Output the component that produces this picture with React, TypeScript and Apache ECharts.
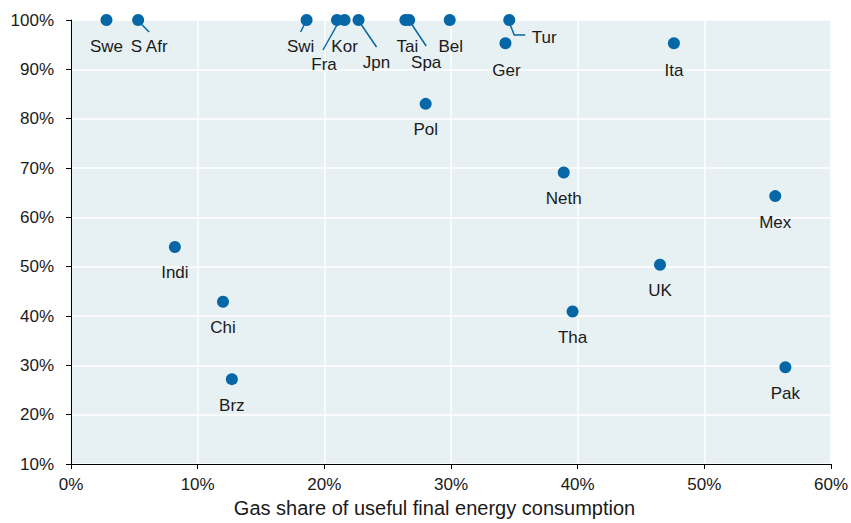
import React, { useEffect, useRef } from "react";
import * as echarts from "echarts";

const countries = ["Swe", "S Afr", "Swi", "Fra", "Kor", "Jpn", "Tai", "Spa", "Bel", "Tur", "Ger", "Ita", "Pol", "Neth", "Mex", "UK", "Tha", "Pak", "Indi", "Chi", "Brz"];
const gasShare = [2.8, 5.3, 18.6, 21.0, 21.6, 22.7, 26.4, 26.7, 29.9, 34.6, 34.3, 47.6, 28.0, 38.9, 55.6, 46.5, 39.6, 56.4, 8.2, 12.0, 12.7];
const yValues = [100, 100, 100, 100, 100, 100, 100, 100, 100, 100, 95.3, 95.3, 83.0, 69.1, 64.3, 50.4, 40.9, 29.6, 54.0, 42.9, 27.2];

const xTicks = { min: 0, max: 60, interval: 10 };
const yTicks = { min: 10, max: 100, interval: 10 };
const xTitle = "Gas share of useful final energy consumption";

// label placement (layout only): pixel offset of each label from its point
const labelOffsets: Record<string, [number, number]> = {
  "S Afr": [11, 26],
  Swi: [-6, 26],
  Fra: [-13, 44],
  Jpn: [18, 42],
  Tai: [2, 26],
  Spa: [17, 42],
  Bel: [1, 26],
  Tur: [35, 17],
  Ger: [1, 27],
  Ita: [0, 27],
};
// leader lines (layout only): pixel offsets relative to the point
const leaderShapes: Record<string, [number, number][]> = {
  "S Afr": [[3, 4], [11, 12]],
  Swi: [[-2, 4], [-6, 12]],
  Fra: [[0, 5], [-14, 30]],
  Jpn: [[3, 5], [18, 27]],
  Spa: [[3, 5], [17, 26]],
  Tur: [[1, 5], [5, 15], [16, 15]],
};

const BLUE = "#0567a6";
const FONT = "'Liberation Sans', Arial, sans-serif";
const TEXT = "#1a1a1a";

export default function App() {
  const ref = useRef<HTMLDivElement>(null);
  useEffect(() => {
    if (!ref.current) return;
    const chart = echarts.init(ref.current, undefined, { renderer: "svg" });
    const data = countries.map((name, i) => ({
      name,
      value: [gasShare[i], yValues[i]],
      label: { offset: labelOffsets[name] || [0, 26] },
    }));
    const leaderData = countries
      .map((name, i) => ({ name, value: [gasShare[i], yValues[i]] }))
      .filter((d) => leaderShapes[d.name]);
    chart.setOption({
      animation: false,
      backgroundColor: "#ffffff",
      textStyle: { fontFamily: FONT },
      grid: {
        left: 71,
        right: 16,
        top: 20,
        bottom: 57,
        show: true,
        backgroundColor: "#e7f0f3",
        borderWidth: 0,
      },
      xAxis: {
        type: "value",
        min: xTicks.min,
        max: xTicks.max,
        interval: xTicks.interval,
        name: xTitle,
        nameLocation: "middle",
        nameGap: 34,
        nameTextStyle: { fontSize: 20, color: TEXT, fontFamily: FONT, padding: [0, 33, 0, 0] },
        axisLine: { show: true, onZero: false, lineStyle: { color: "#000", width: 1 } },
        axisTick: { show: true, length: 5, lineStyle: { color: "#000" } },
        axisLabel: { formatter: (v: number) => `${v}%`, fontSize: 17, color: TEXT, margin: 12, fontFamily: FONT },
        splitLine: { show: true, lineStyle: { color: "#ffffff", width: 1.5 } },
      },
      yAxis: {
        type: "value",
        min: yTicks.min,
        max: yTicks.max,
        interval: yTicks.interval,
        axisLine: { show: true, onZero: false, lineStyle: { color: "#000", width: 1 } },
        axisTick: { show: true, length: 5, lineStyle: { color: "#000" } },
        axisLabel: { formatter: (v: number) => `${v}%`, fontSize: 17, color: TEXT, margin: 17, fontFamily: FONT },
        splitLine: { show: true, lineStyle: { color: "#ffffff", width: 1.5 } },
      },
      series: [
        {
          type: "custom",
          clip: false,
          z: 1,
          silent: true,
          data: leaderData,
          renderItem: (params: any, api: any) => {
            const d = leaderData[params.dataIndex];
            const c = api.coord([api.value(0), api.value(1)]);
            const pts = leaderShapes[d.name].map(([dx, dy]) => [c[0] + dx, c[1] + dy]);
            return {
              type: "polyline",
              shape: { points: pts },
              style: { stroke: BLUE, lineWidth: 1.5, fill: "none" },
            };
          },
        },
        {
          type: "scatter",
          clip: false,
          z: 2,
          symbol: "circle",
          symbolSize: 12,
          itemStyle: { color: BLUE, opacity: 1 },
          label: {
            show: true,
            position: "inside",
            formatter: "{b}",
            fontSize: 17,
            color: TEXT,
            fontFamily: FONT,
          },
          data,
        },
      ],
    });
    return () => chart.dispose();
  }, []);
  return <div ref={ref} style={{ position: "fixed", left: 0, top: 0, width: 851, height: 523 }} />;
}
